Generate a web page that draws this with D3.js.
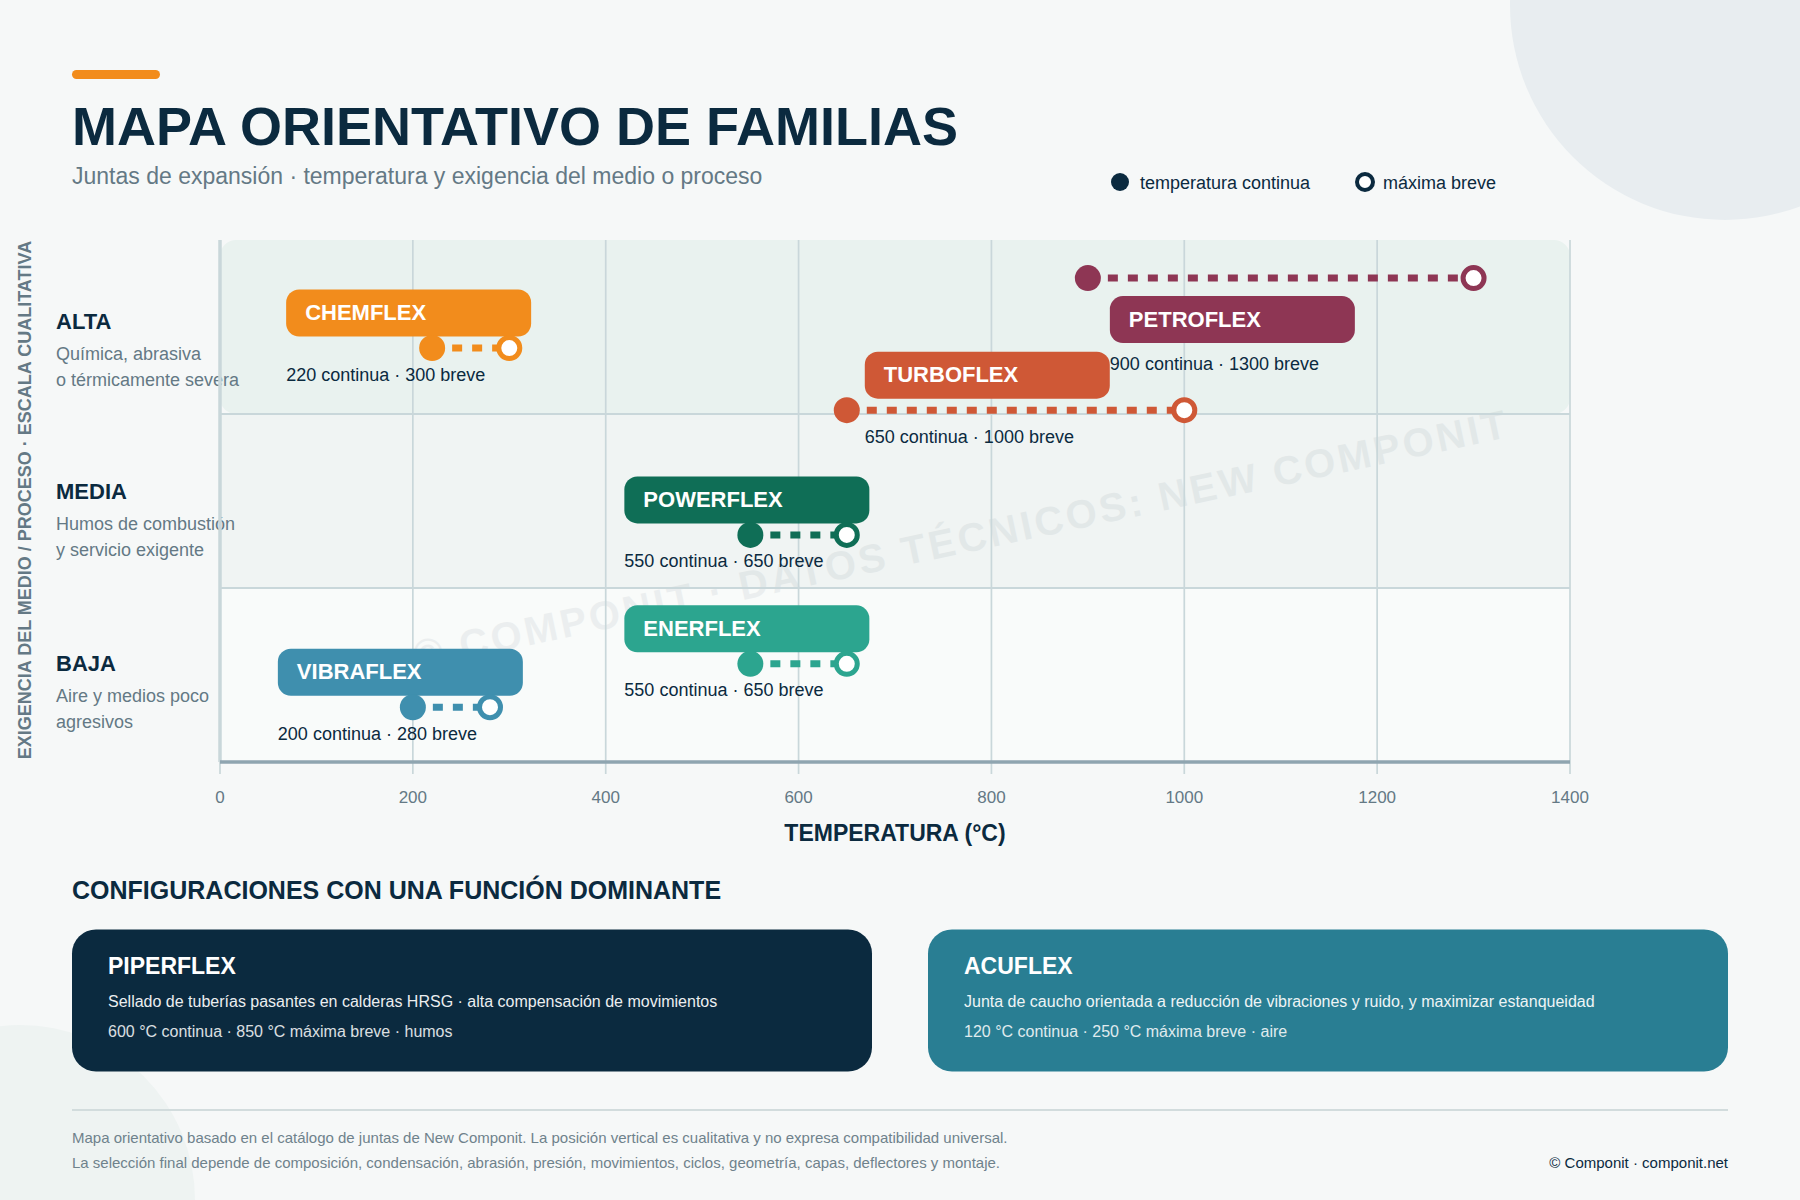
<!DOCTYPE html>
<html lang="es">
<head>
<meta charset="utf-8">
<title>Mapa orientativo de familias</title>
<script src="https://cdn.jsdelivr.net/npm/d3@7"></script>
<style>
  html, body { margin: 0; padding: 0; background: #f6f8f8; }
  svg { display: block; font-family: "Liberation Sans", Arial, sans-serif; }
</style>
</head>
<body>
<svg id="chart" width="1800" height="1200"></svg>
<script>
// chart values
const families = ["CHEMFLEX", "PETROFLEX", "TURBOFLEX", "POWERFLEX", "ENERFLEX", "VIBRAFLEX"];
const continuousTemp = [220, 900, 650, 550, 550, 200];
const briefTemp = [300, 1300, 1000, 650, 650, 280];
const demand = [79.3, 92.7, 67.4, 43.5, 18.8, 10.5]; // qualitative, 0-100
const tempTicks = [0, 200, 400, 600, 800, 1000, 1200, 1400];

const bandNames = ["ALTA", "MEDIA", "BAJA"];
const bandLimits = [[66.67, 100], [33.33, 66.67], [0, 33.33]];
const bandNotes = [
  ["Química, abrasiva", "o térmicamente severa"],
  ["Humos de combustión", "y servicio exigente"],
  ["Aire y medios poco", "agresivos"]
];

const cardNames = ["PIPERFLEX", "ACUFLEX"];
const cardLines = [
  ["Sellado de tuberías pasantes en calderas HRSG · alta compensación de movimientos",
   "600 °C continua · 850 °C máxima breve · humos"],
  ["Junta de caucho orientada a reducción de vibraciones y ruido, y maximizar estanqueidad",
   "120 °C continua · 250 °C máxima breve · aire"]
];
const footNotes = [
  "Mapa orientativo basado en el catálogo de juntas de New Componit. La posición vertical es cualitativa y no expresa compatibilidad universal.",
  "La selección final depende de composición, condensación, abrasión, presión, movimientos, ciclos, geometría, capas, deflectores y montaje."
];

// styles and label placement
const familyColors = ["#f28c1c", "#8e3654", "#cf5836", "#0f6e56", "#2ca58f", "#3f8fae"];
const bandFills = ["#e9f2ef", "#f0f4f3", "#f9fbfa"];
const cardFills = ["#0b2a3f", "#297e93"];
const pillDx = [-146, 22, 18, -126, -126, -135]; // pill left, from the continuous dot
const pillBelow = [false, true, false, false, false, false];

const ink = "#0b2a3f", muted = "#647985", gridColor = "#c9d7da";
const pillW = 245, pillH = 47;

const svg = d3.select("#chart");
const x = d3.scaleLinear().domain([0, 1400]).range([220, 1570]);
const y = d3.scaleLinear().domain([0, 100]).range([762, 240]);

function label(parent, px, py, str, size, color, weight) {
  return parent.append("text").attr("x", px).attr("y", py)
    .attr("font-size", size).attr("fill", color)
    .attr("font-weight", weight || "normal").text(str);
}

// page decoration
svg.append("circle").attr("cx", 1725).attr("cy", 5).attr("r", 215).attr("fill", "#e8edf0");
svg.append("circle").attr("cx", 20).attr("cy", 1200).attr("r", 175).attr("fill", "#eef3f2");

// header
svg.append("rect").attr("x", 72).attr("y", 70).attr("width", 88).attr("height", 9)
  .attr("rx", 4.5).attr("fill", "#f28c1c");
label(svg, 72, 144.5, "MAPA ORIENTATIVO DE FAMILIAS", 54, ink, "bold");
label(svg, 72, 184, "Juntas de expansión · temperatura y exigencia del medio o proceso", 23, muted);

// legend
svg.append("circle").attr("cx", 1120).attr("cy", 182).attr("r", 9).attr("fill", ink);
label(svg, 1140, 189, "temperatura continua", 18, ink);
svg.append("circle").attr("cx", 1365).attr("cy", 182).attr("r", 8).attr("fill", "#fff")
  .attr("stroke", ink).attr("stroke-width", 4);
label(svg, 1383, 189, "máxima breve", 18, ink);

// bands
svg.append("g").selectAll("rect").data(bandLimits).join("rect")
  .attr("x", x(0)).attr("width", x(1400) - x(0))
  .attr("y", d => y(d[1])).attr("height", d => y(d[0]) - y(d[1]))
  .attr("rx", (d, i) => i === 0 ? 16 : 0)
  .attr("fill", (d, i) => bandFills[i]);

// watermark
svg.append("text").attr("transform", "translate(964,553) rotate(-12)")
  .attr("text-anchor", "middle").attr("font-size", 40).attr("font-weight", "bold")
  .attr("letter-spacing", 3.15).attr("fill", "#0b2a3f").attr("opacity", 0.055)
  .text("© COMPONIT · DATOS TÉCNICOS: NEW COMPONIT");

// band captions
const captionY = [329, 499, 671];
const noteY = [[360, 386], [530, 556], [702, 728]];
bandNames.forEach((name, i) => {
  label(svg, 56, captionY[i], name, 22, ink, "bold");
  bandNotes[i].forEach((line, j) => label(svg, 56, noteY[i][j], line, 18, muted));
});

// grid, axes
const xAxis = d3.axisBottom(x).tickValues(tempTicks).tickSize(534).tickPadding(17)
  .offset(0).tickFormat(d3.format("d"));
const axisG = svg.append("g").attr("transform", "translate(0,240)").call(xAxis);
axisG.select(".domain").remove();
axisG.selectAll(".tick line").attr("stroke", gridColor).attr("stroke-width", 1.7);
axisG.selectAll(".tick text").attr("font-size", 17).attr("font-family", "inherit").attr("fill", muted);

svg.append("g").selectAll("line").data(bandLimits.slice(0, 2)).join("line")
  .attr("x1", x(0)).attr("x2", x(1400))
  .attr("y1", d => y(d[0])).attr("y2", d => y(d[0]))
  .attr("stroke", gridColor).attr("stroke-width", 2);
svg.append("line").attr("x1", x(0)).attr("x2", x(0)).attr("y1", 240).attr("y2", 762)
  .attr("stroke", gridColor).attr("stroke-width", 3.5);
svg.append("line").attr("x1", x(0)).attr("x2", x(1400)).attr("y1", 762).attr("y2", 762)
  .attr("stroke", "#8fa5b0").attr("stroke-width", 3.5);

label(svg, x(700), 841, "TEMPERATURA (°C)", 23, ink, "bold").attr("text-anchor", "middle");
svg.append("text").attr("transform", "translate(31,500) rotate(-90)")
  .attr("text-anchor", "middle").attr("font-size", 18).attr("font-weight", "bold")
  .attr("fill", muted)
  .text("EXIGENCIA DEL MEDIO / PROCESO · ESCALA CUALITATIVA");

// families
const fam = svg.append("g").selectAll("g").data(families).join("g");
fam.append("rect")
  .attr("x", (d, i) => x(continuousTemp[i]) + pillDx[i])
  .attr("y", (d, i) => y(demand[i]) + (pillBelow[i] ? 18 : -58.5))
  .attr("width", pillW).attr("height", pillH).attr("rx", 13)
  .attr("fill", (d, i) => familyColors[i]);
fam.append("text")
  .attr("x", (d, i) => x(continuousTemp[i]) + pillDx[i] + 19)
  .attr("y", (d, i) => y(demand[i]) + (pillBelow[i] ? 48.5 : -28))
  .attr("font-size", 22).attr("font-weight", "bold").attr("fill", "#fff")
  .text(d => d);
fam.append("line")
  .attr("x1", (d, i) => x(continuousTemp[i])).attr("x2", (d, i) => x(briefTemp[i]))
  .attr("y1", (d, i) => y(demand[i])).attr("y2", (d, i) => y(demand[i]))
  .attr("stroke", (d, i) => familyColors[i]).attr("stroke-width", 7)
  .attr("stroke-dasharray", "10 10");
fam.append("circle")
  .attr("cx", (d, i) => x(continuousTemp[i])).attr("cy", (d, i) => y(demand[i]))
  .attr("r", 13).attr("fill", (d, i) => familyColors[i]);
fam.append("circle")
  .attr("cx", (d, i) => x(briefTemp[i])).attr("cy", (d, i) => y(demand[i]))
  .attr("r", 10.5).attr("fill", "#fff")
  .attr("stroke", (d, i) => familyColors[i]).attr("stroke-width", 5);
fam.append("text")
  .attr("x", (d, i) => x(continuousTemp[i]) + pillDx[i])
  .attr("y", (d, i) => y(demand[i]) + (pillBelow[i] ? 91.5 : 32.5))
  .attr("font-size", 18).attr("fill", ink)
  .text((d, i) => `${continuousTemp[i]} continua · ${briefTemp[i]} breve`);

// cards
label(svg, 72, 899, "CONFIGURACIONES CON UNA FUNCIÓN DOMINANTE", 25, ink, "bold");
const cardX = [72, 928];
cardNames.forEach((name, i) => {
  svg.append("rect").attr("x", cardX[i]).attr("y", 929.5).attr("width", 800).attr("height", 142)
    .attr("rx", 24).attr("fill", cardFills[i]);
  label(svg, cardX[i] + 36, 974, name, 23, "#fff", "bold");
  label(svg, cardX[i] + 36, 1007, cardLines[i][0], 16, "#fff").attr("opacity", 0.92);
  label(svg, cardX[i] + 36, 1037, cardLines[i][1], 16, "#fff").attr("opacity", 0.85);
});

// footer
svg.append("line").attr("x1", 72).attr("x2", 1728).attr("y1", 1110).attr("y2", 1110)
  .attr("stroke", "#d2dcdd").attr("stroke-width", 2);
label(svg, 72, 1143, footNotes[0], 15, "#6f828c");
label(svg, 72, 1168, footNotes[1], 15, "#6f828c");
label(svg, 1728, 1168, "© Componit · componit.net", 15, ink).attr("text-anchor", "end");
</script>
</body>
</html>
